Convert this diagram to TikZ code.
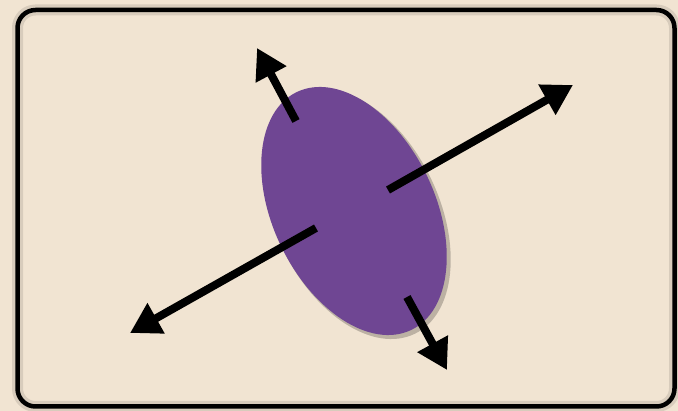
\documentclass[tikz,border=0pt]{standalone}
\usepackage{xcolor}
\usepackage{tikz}
\usetikzlibrary{arrows.meta, shapes.geometric}
\definecolor{woodbg}{RGB}{241,228,210}
\definecolor{felt}{RGB}{111,70,147}
\tikzset{
  frame/.style = {draw=black, line width=4.5pt, rounded corners=18pt},
  frameshadow/.style = {draw=black, line width=11pt, rounded corners=18pt, opacity=0.1},
  blob/.style = {ellipse, fill=felt, inner sep=0pt,
    minimum width=162pt, minimum height=264pt, rotate=25.7},
  blobshadow/.style = {ellipse, fill=black, opacity=0.22, inner sep=0pt,
    minimum width=164pt, minimum height=266pt, rotate=25.7},
  push/.style = {line width=8pt, -{Triangle[length=30pt, width=33pt]}},
}
\begin{document}
\begin{tikzpicture}[x=1pt, y=-1pt]
  \fill[woodbg] (0,0) rectangle (678,411);
  \useasboundingbox (0,0) rectangle (678,411);
  \draw[frameshadow] (17.5,10) rectangle (674.5,406.5);
  \draw[frame] (17.5,10) rectangle (674.5,406.5);

  \node[blobshadow] (cellshadow) at (357,214) {};
  \node[blob] (cell) at (354,211) {};

  % tails sit on the felt, tips out on the board
  \coordinate (tailA) at (296,121);
  \coordinate (tipA)  at (257,48);
  \coordinate (tailB) at (388,190);
  \coordinate (tipB)  at (573,85);
  \coordinate (tailC) at (316,228);
  \coordinate (tipC)  at (130,333);
  \coordinate (tailD) at (407,297);
  \coordinate (tipD)  at (447,370);

  \draw[push] (tailA) -- (tipA);
  \draw[push] (tailB) -- (tipB);
  \draw[push] (tailC) -- (tipC);
  \draw[push] (tailD) -- (tipD);
\end{tikzpicture}
\end{document}
